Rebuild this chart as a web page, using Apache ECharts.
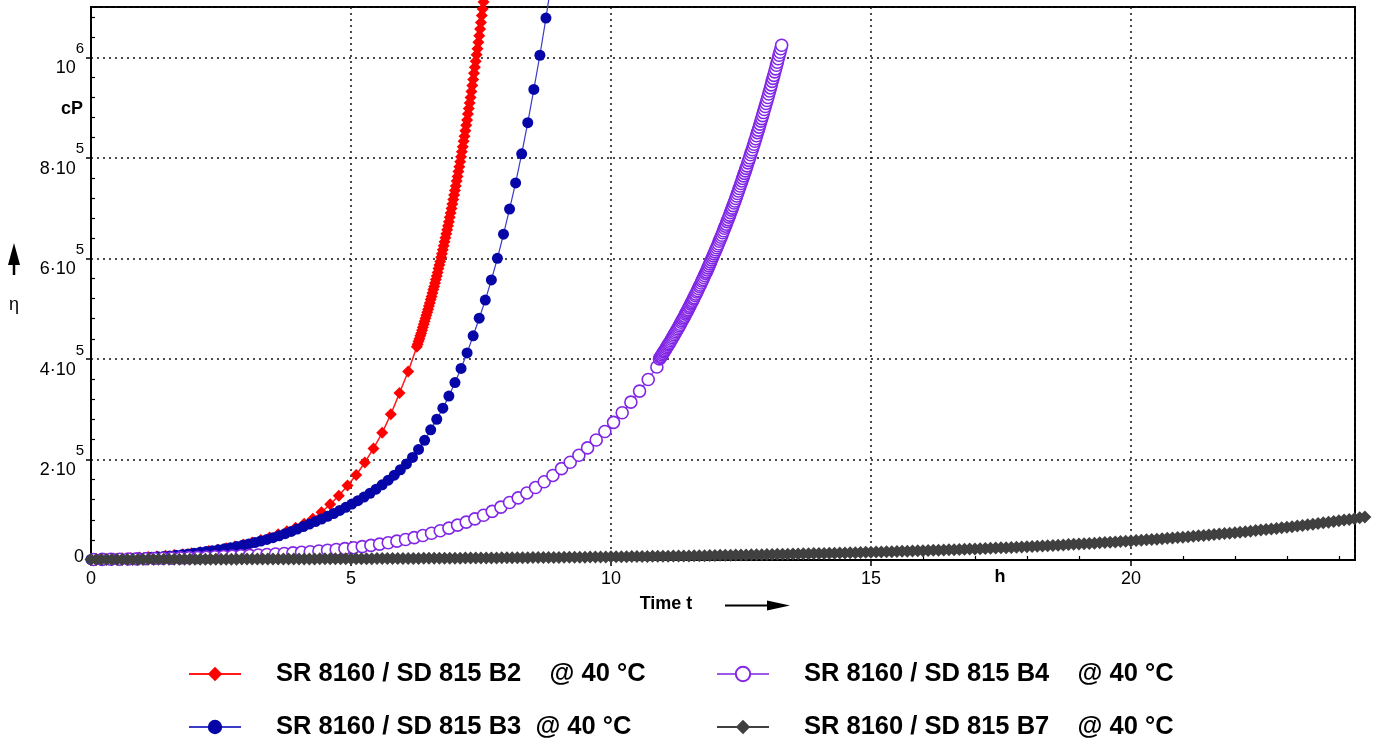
<!DOCTYPE html>
<html>
<head>
<meta charset="utf-8">
<title>Viscosity vs. time</title>
<script src="https://cdn.jsdelivr.net/npm/echarts@6/dist/echarts.min.js"></script>
<style>
  html, body { margin: 0; padding: 0; background: #fff; }
  #chart { width: 1382px; height: 742px; }
</style>
</head>
<body>
<div id="chart"></div>
<script>
// Series names as shown in the legend
const nameB2 = 'SR 8160 / SD 815 B2    @ 40 °C';
const nameB3 = 'SR 8160 / SD 815 B3  @ 40 °C';
const nameB4 = 'SR 8160 / SD 815 B4    @ 40 °C';
const nameB7 = 'SR 8160 / SD 815 B7    @ 40 °C';

// B2: measurement times (min) and viscosity (cP)
const b2Minutes = [6,16,26,36,46,56,66,76,86,96,106,116,126,136,146,156,166,176,186,196,206,216,226,236,246,256,266,276,286,296,306,316,326,336,346,356,366,
  376,377,378,379,380,381,382,383,384,385,386,387,388,389,390,391,392,393,394,395,396,397,398,399,400,401,402,403,404,405,406,407,408,409,410,411,412,413,414,415,
  416,417,418,419,420,421,422,423,424,425,426,427,428,429,430,431,432,433,434,435,436,437,438,439,440,441,442,443,444,445,446,447,448,449,450,451,452,453,454];
const b2Viscosity = [2000,2500,3000,3500,4000,5000,6000,7000,8500,10000,11500,13500,15500,18000,20500,23500,27000,31000,35000,40000,45000,51000,57000,64000,72000,82000,95000,111000,128000,148000,169000,194000,222000,253000,290000,332000,375000,
  424000,429000,435000,440000,446000,451000,457000,463000,469000,475000,481000,487000,493000,499000,505000,511000,518000,524000,531000,538000,
  544000,551000,558000,565000,572000,580000,587000,594000,602000,609000,617000,625000,633000,641000,649000,657000,665000,673000,682000,690000,
  699000,708000,717000,726000,735000,744000,754000,763000,773000,782000,792000,802000,812000,822000,833000,843000,854000,865000,875000,887000,
  898000,909000,920000,932000,944000,956000,968000,980000,992000,1005000,1017000,1030000,1043000,1056000,1069000,1083000,1096000,1110000,1124000];

// B3
const b3Minutes = [0,7,14,21,28,35,42,49,56,63,70,77,84,91,98,105,112,119,126,133,140,147,154,161,168,175,182,189,196,203,210,217,224,231,238,245,252,259,266,273,
  280,287,294,301,308,315,322,329,336,343,350,357,364,371,378,385,392,399,406,413,420,427,434,441,448,455,462,469,476,483,490,497,504,511,518,525,532];
const b3Viscosity = [1000,1200,1400,1700,2000,2400,2900,3400,4100,4800,5500,6300,7200,8200,9300,10500,12000,13600,15200,16800,18500,20300,22300,24500,26800,29300,
  32000,34800,37800,41000,44400,48200,52300,56800,61600,66500,71400,76500,81500,86800,92500,98500,104800,111200,118000,125200,132800,140800,149500,158800,
  168800,179500,191000,204000,220000,238000,259000,280000,302000,326000,353000,381000,412000,446000,481000,517000,557000,600000,648000,698000,750000,808000,
  870000,936000,1004000,1078000,1158000];

// B4
const b4Minutes = [3,13,23,33,43,53,63,73,83,93,103,113,123,133,143,153,163,173,183,193,203,213,223,233,243,253,263,273,283,293,303,313,323,333,343,353,363,373,383,393,
  403,413,423,433,443,453,463,473,483,493,503,513,523,533,543,553,563,573,583,593,603,613,623,633,643,653,
  656,657,658,659,660,661,662,663,664,665,666,667,668,669,670,671,672,673,674,675,676,677,678,679,680,681,682,683,684,685,686,687,688,689,690,691,692,693,694,695,
  696,697,698,699,700,701,702,703,704,705,706,707,708,709,710,711,712,713,714,715,716,717,718,719,720,721,722,723,724,725,726,727,728,729,730,731,732,733,734,735,
  736,737,738,739,740,741,742,743,744,745,746,747,748,749,750,751,752,753,754,755,756,757,758,759,760,761,762,763,764,765,766,767,768,769,770,771,772,773,774,775,
  776,777,778,779,780,781,782,783,784,785,786,787,788,789,790,791,792,793,794,795,796,797];
const b4Viscosity = [1000,1200,1400,1600,1900,2200,2600,3000,3400,3800,4300,4700,5200,5800,6400,7100,7800,8500,
  9200,10000,10900,11900,12900,14100,15300,16500,17900,19300,20900,22600,24500,26700,29000,31600,34400,37500,40800,
  44600,48700,53200,58100,63500,69400,75400,81900,89000,96800,105200,114300,123500,133400,144100,155700,168200,181700,
  194500,208300,223000,238800,255700,273800,293000,314000,336000,359000,384000,
  400000,403000,405000,408000,411000,414000,416000,419000,422000,425000,428000,430000,433000,436000,439000,442000,445000,448000,451000,454000,
  457000,460000,463000,466000,469000,473000,476000,479000,482000,485000,489000,492000,495000,498000,502000,505000,509000,512000,515000,519000,
  522000,526000,529000,533000,536000,540000,544000,547000,551000,555000,558000,562000,566000,570000,573000,577000,581000,585000,589000,593000,
  597000,601000,605000,609000,613000,617000,621000,625000,629000,634000,638000,642000,646000,651000,655000,660000,664000,668000,673000,677000,
  682000,686000,691000,696000,700000,705000,710000,714000,719000,724000,729000,734000,739000,744000,749000,754000,759000,764000,769000,774000,
  779000,784000,790000,795000,800000,806000,811000,816000,822000,827000,833000,838000,844000,850000,855000,861000,867000,873000,878000,884000,
  890000,896000,902000,908000,914000,920000,927000,933000,939000,945000,952000,958000,964000,971000,977000,984000,990000,997000,1004000,1010000,
  1017000,1024000];

// B7
const b7Minutes = [0,6,12,18,24,30,36,42,48,54,60,66,72,78,84,90,96,102,108,114,120,126,132,138,144,150,156,162,168,174,180,186,192,198,204,210,216,222,228,234,
  240,246,252,258,264,270,276,282,288,294,300,306,312,318,324,330,336,342,348,354,360,366,372,378,384,390,396,402,408,414,420,426,432,438,444,450,456,462,468,474,
  480,486,492,498,504,510,516,522,528,534,540,546,552,558,564,570,576,582,588,594,600,606,612,618,624,630,636,642,648,654,660,666,672,678,684,690,696,702,708,714,
  720,726,732,738,744,750,756,762,768,774,780,786,792,798,804,810,816,822,828,834,840,846,852,858,864,870,876,882,888,894,900,906,912,918,924,930,936,942,948,954,
  960,966,972,978,984,990,996,1002,1008,1014,1020,1026,1032,1038,1044,1050,1056,1062,1068,1074,1080,1086,1092,1098,1104,1110,1116,1122,1128,1134,1140,1146,1152,1158,1164,1170,1176,1182,1188,1194,
  1200,1206,1212,1218,1224,1230,1236,1242,1248,1254,1260,1266,1272,1278,1284,1290,1296,1302,1308,1314,1320,1326,1332,1338,1344,1350,1356,1362,1368,1374,1380,1386,1392,1398,1404,1410,1416,1422,1428,1434,
  1440,1446,1452,1458,1464,1470];
const b7Viscosity = [1000,1100,1100,1100,1100,1100,1200,1200,1200,1200,1200,1300,1300,1300,1300,1400,1400,1400,1400,1500,
  1500,1500,1500,1600,1600,1600,1700,1700,1700,1800,1800,1800,1800,1900,1900,1900,2000,2000,2100,2100,
  2100,2200,2200,2200,2300,2300,2400,2400,2500,2500,2600,2600,2600,2700,2700,2800,2800,2900,3000,3000,
  3100,3100,3200,3200,3300,3300,3400,3500,3500,3600,3700,3700,3800,3900,3900,4000,4100,4200,4200,4300,
  4400,4500,4500,4600,4700,4800,4900,5000,5100,5200,5200,5300,5400,5500,5600,5700,5800,6000,6100,6200,
  6300,6400,6500,6600,6800,6900,7000,7100,7300,7400,7500,7700,7800,7900,8100,8200,8400,8500,8700,8800,
  9000,9200,9300,9500,9700,9800,10000,10200,10400,10600,10800,11000,11200,11400,11600,11800,12000,12200,12400,12700,
  12900,13100,13400,13600,13900,14100,14400,14600,14900,15200,15400,15700,16000,16300,16600,16900,17200,17500,17800,18200,
  18500,18800,19200,19500,19900,20200,20600,21000,21300,21700,22100,22500,22900,23400,23800,24200,24600,25100,25600,26000,
  26500,27000,27500,28000,28500,29000,29500,30000,30600,31100,31700,32300,32900,33500,34100,34700,35300,36000,36600,37300,
  38000,38600,39300,40100,40800,41500,42300,43100,43800,44600,45400,46300,47100,48000,48800,49700,50600,51500,52500,53400,
  54400,55400,56400,57400,58500,59500,60600,61700,62800,64000,65100,66300,67500,68700,70000,71300,72500,73900,75200,76600,
  78000,79400,80800,82300,83800,85300];

// Axis tick labels
const yTickMantissa = ['0', '2·10', '4·10', '6·10', '8·10', '10'];
const yTickExponent = ['', '5', '5', '5', '5', '6'];
const yMinorTicks = [40000,80000,120000,160000,240000,280000,320000,360000,440000,480000,520000,560000,
  640000,680000,720000,760000,840000,880000,920000,960000,1040000,1080000];
const xMinorTicks = [1,2,3,4,6,7,8,9,11,12,13,14,16,17,18,19,21,22,23,24];

const FONT = "'Liberation Sans', Arial, Helvetica, sans-serif";

function toHours(minutes, values) {
  return minutes.map((m, i) => [m / 60, values[i]]);
}

// one legend block per entry, laid out as a 2 x 2 table
function legendEntry(name, left, top) {
  return {
    orient: 'horizontal', left: left, top: top, padding: 0,
    itemWidth: 52, itemHeight: 18,
    lineStyle: { width: 2 },
    data: [name],
    textStyle: { fontSize: 25.5, fontWeight: 'bold', color: '#000', fontFamily: FONT, lineHeight: 30, padding: [0, 0, 0, 30] }
  };
}

const chart = echarts.init(document.getElementById('chart'), null, { renderer: 'canvas' });

const dotted = { type: [2, 4], color: '#111', width: 1.5 };

const option = {
  animation: false,
  backgroundColor: '#fff',
  textStyle: { fontFamily: FONT },
  grid: {
    left: 91, top: 7, right: 27, bottom: 182,
    show: true, borderColor: '#000', borderWidth: 2, backgroundColor: 'transparent'
  },
  xAxis: [{
    type: 'value', min: 0, max: 24.31, interval: 5,
    axisLine: { show: true, onZero: false, lineStyle: { color: '#000', width: 2 } },
    axisTick: { show: true, length: 6, lineStyle: { color: '#000', width: 1.5 } },
    axisLabel: { color: '#000', fontSize: 18, fontFamily: FONT, margin: 10, showMaxLabel: false },
    splitLine: { show: true, lineStyle: dotted }
  }, {
    type: 'value', min: 0, max: 24.31, position: 'bottom',
    axisLine: { show: false },
    axisLabel: { show: false },
    splitLine: { show: false },
    axisTick: { show: true, inside: true, length: 4, customValues: xMinorTicks, lineStyle: { color: '#000', width: 1.2 } }
  }],
  yAxis: [{
    type: 'value', min: 0, max: 1100000, interval: 200000,
    axisLine: { show: true, onZero: false, lineStyle: { color: '#000', width: 2 } },
    axisTick: { show: true, length: 5, lineStyle: { color: '#000', width: 1.5 } },
    axisLabel: {
      color: '#000', fontFamily: FONT, margin: 7, showMaxLabel: false, padding: [4, 0, 0, 0],
      formatter: function (v) {
        const i = Math.round(v / 200000);
        if (i < 0 || i >= yTickMantissa.length) return '';
        if (i === 0) return '{z|' + yTickMantissa[0] + '}';
        return '{m|' + yTickMantissa[i] + '}{e|' + yTickExponent[i] + '}';
      },
      rich: {
        z: { fontSize: 18, lineHeight: 18, padding: [0, 0, 10, 0], color: '#000', fontFamily: FONT },
        m: { fontSize: 18, lineHeight: 18, padding: [18, 0, 0, 0], color: '#000', fontFamily: FONT },
        e: { fontSize: 15, lineHeight: 15, padding: [0, 0, 21, 0], color: '#000', fontFamily: FONT }
      }
    },
    splitLine: { show: true, lineStyle: dotted }
  }, {
    type: 'value', min: 0, max: 1100000, position: 'left',
    axisLine: { show: false },
    axisLabel: { show: false },
    splitLine: { show: false },
    axisTick: { show: true, inside: true, length: 4, customValues: yMinorTicks, lineStyle: { color: '#000', width: 1.2 } }
  }],
  legend: [
    legendEntry(nameB2, 188, 659),
    legendEntry(nameB3, 188, 712),
    legendEntry(nameB4, 716, 659),
    legendEntry(nameB7, 716, 712)
  ],
  series: [{
    name: nameB2, type: 'line', clip: false,
    data: toHours(b2Minutes, b2Viscosity),
    symbol: 'diamond', symbolSize: 12, showSymbol: true,
    itemStyle: { color: '#ff0000' },
    lineStyle: { color: '#ff1a1a', width: 1.5 },
    emphasis: { disabled: true }
  }, {
    name: nameB3, type: 'line', clip: false,
    data: toHours(b3Minutes, b3Viscosity),
    symbol: 'circle', symbolSize: 11, showSymbol: true,
    itemStyle: { color: '#0606a8' },
    lineStyle: { color: '#3b3bc8', width: 1.2 },
    emphasis: { disabled: true }
  }, {
    name: nameB4, type: 'line', clip: false,
    data: toHours(b4Minutes, b4Viscosity),
    symbol: 'circle', symbolSize: 12, showSymbol: true,
    itemStyle: { color: '#ffffff', borderColor: '#8226e6', borderWidth: 1.6 },
    lineStyle: { color: '#9a5ce6', width: 1.5 },
    emphasis: { disabled: true }
  }, {
    name: nameB7, type: 'line', clip: false,
    data: toHours(b7Minutes, b7Viscosity),
    symbol: 'diamond', symbolSize: 13, showSymbol: true,
    itemStyle: { color: '#404040' },
    lineStyle: { color: '#404040', width: 1.5 },
    emphasis: { disabled: true }
  }],
  graphic: [
    { type: 'text', x: 72, y: 109, style: { text: 'cP', font: 'bold 18px ' + FONT, fill: '#000', align: 'center', verticalAlign: 'middle' } },
    { type: 'line', shape: { x1: 14, y1: 263, x2: 14, y2: 275 }, style: { stroke: '#000', lineWidth: 2.5 } },
    { type: 'polygon', shape: { points: [[8, 265], [20, 265], [14, 243]] }, style: { fill: '#000' } },
    { type: 'text', x: 14, y: 305, style: { text: 'η', font: '18px ' + FONT, fill: '#000', align: 'center', verticalAlign: 'middle' } },
    { type: 'text', x: 666, y: 604, style: { text: 'Time t', font: 'bold 18px ' + FONT, fill: '#000', align: 'center', verticalAlign: 'middle' } },
    { type: 'line', shape: { x1: 725, y1: 605.5, x2: 770, y2: 605.5 }, style: { stroke: '#000', lineWidth: 2 } },
    { type: 'polygon', shape: { points: [[767, 600.5], [767, 610.5], [790, 605.5]] }, style: { fill: '#000' } },
    { type: 'text', x: 1000, y: 577, style: { text: 'h', font: 'bold 18px ' + FONT, fill: '#000', align: 'center', verticalAlign: 'middle' } }
  ]
};

chart.setOption(option);
</script>
</body>
</html>
